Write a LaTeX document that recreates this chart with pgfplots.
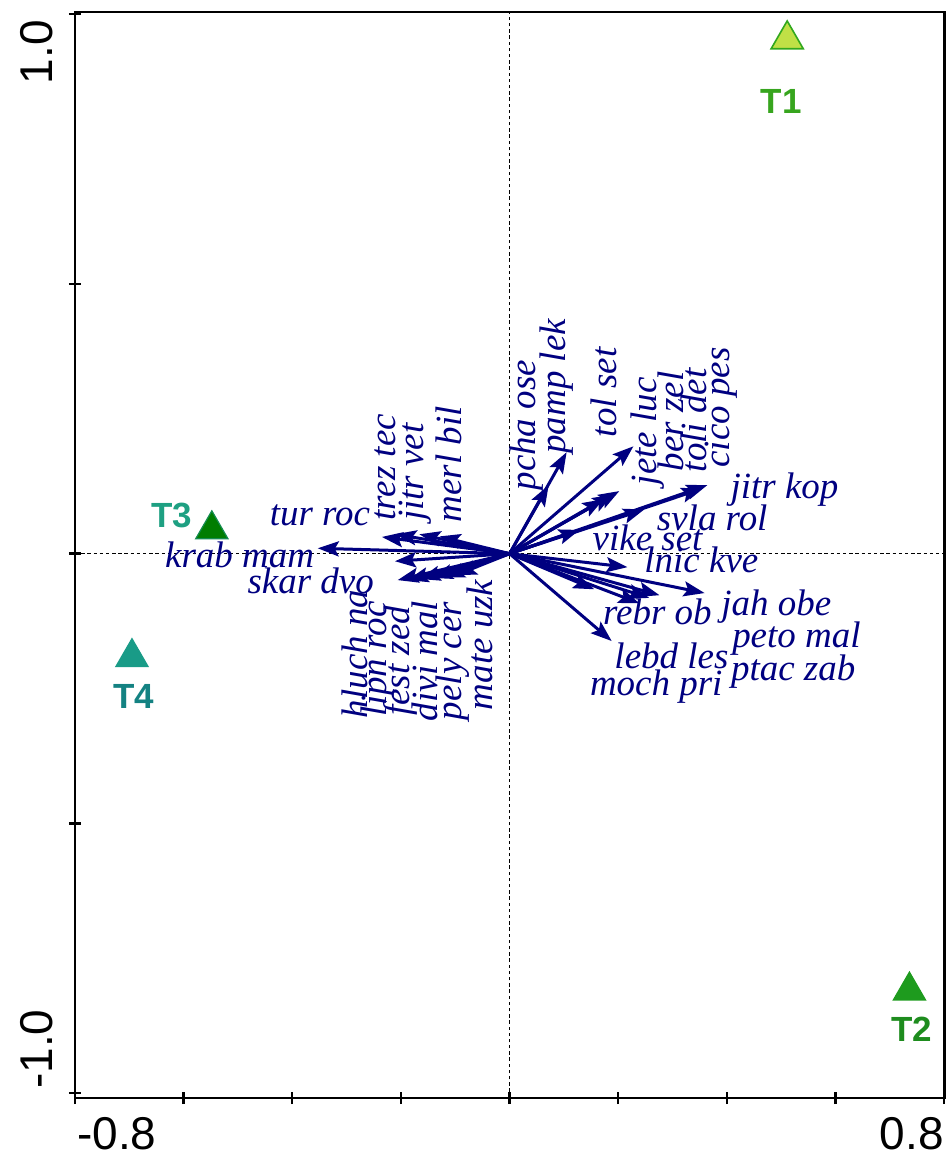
\documentclass[border=0pt]{standalone}
\usepackage{fontspec}
\setmainfont{Liberation Serif}
\newfontfamily\sansfont{Liberation Sans}
\usepackage{pgfplots}
\usepackage{pgfplotstable}
\pgfplotsset{compat=1.18}
\usetikzlibrary{arrows.meta}

\definecolor{spnavy}{RGB}{0,0,128}
\definecolor{tonefill}{RGB}{192,224,70}
\definecolor{toneedge}{RGB}{50,168,30}
\definecolor{tonetext}{RGB}{55,165,30}
\definecolor{ttwofill}{RGB}{30,155,30}
\definecolor{ttwotext}{RGB}{30,140,30}
\definecolor{tthreefill}{RGB}{0,125,0}
\definecolor{tthreeedge}{RGB}{20,140,80}
\definecolor{tthreetext}{RGB}{30,160,130}
\definecolor{tfourfill}{RGB}{25,155,135}
\definecolor{tfourtext}{RGB}{20,130,130}

\tikzset{
  sp/.style={font=\fontsize{18.5}{20}\selectfont\itshape, text=spnavy, inner sep=0pt},
  tl/.style={font=\sansfont\bfseries\fontsize{17.5}{19}\selectfont, inner sep=0pt},
}
\pgfplotsset{
  sparrow/.style={spnavy, line width=1.5pt, mark=none,
    -{Stealth[length=10.5pt, width=7.5pt, inset=2pt]}},
}

% species vectors (tips of the arrows)
\pgfplotstableread{
name      dx      dy
pchaose   0.072   0.127
pamplek   0.105   0.188
jeteluc   0.228   0.199
tolset    0.202   0.116
berzel    0.191   0.110
tolidet   0.173   0.101
cicopes   0.355   0.121
jitrkop   0.364   0.127
svlarol   0.248   0.082
vikeset   0.129   0.044
lnickve   0.217  -0.025
jahobe    0.359  -0.073
petomal   0.276  -0.077
ptaczab   0.257  -0.082
rebrob    0.239  -0.092
mochpri   0.156  -0.066
lebdles   0.188  -0.162
krabmam  -0.353   0.010
turroc   -0.235   0.031
treztec  -0.210   0.036
jitrvet  -0.166   0.036
merlbil  -0.129   0.032
skardvo  -0.211  -0.014
hluchna  -0.206  -0.049
lipnroc  -0.188  -0.049
festzed  -0.166  -0.047
divimal  -0.143  -0.045
pelycer  -0.121  -0.044
mateuzk  -0.099  -0.040
}\speciestab

\begin{document}
\begin{tikzpicture}
\begin{axis}[
  scale only axis,
  width=435pt, height=543.5pt,
  xmin=-0.8, xmax=0.8, ymin=-1.009, ymax=1.004,
  xtick={-0.8,-0.6,-0.4,-0.2,0,0.2,0.4,0.6,0.8},
  ytick={-1,-0.5,0,0.5,1},
  xticklabels={}, yticklabels={},
  xtick pos=left, ytick pos=left,
  tick align=center,
  major tick length=6pt,
  tick style={black, line width=1.2pt},
  axis line style={black, line width=1.4pt},
]
% zero lines
\draw[black, line width=0.5pt, dash pattern=on 1.7pt off 1.4pt]
  (axis cs:0,-1.009) -- (axis cs:0,1.004);
\draw[black, line width=0.5pt, dash pattern=on 1.7pt off 1.4pt]
  (axis cs:-0.8,0) -- (axis cs:0.8,0);

% species arrows, one plot per table row
\pgfplotsinvokeforeach{0,...,28}{
  \pgfplotstablegetelem{#1}{dx}\of\speciestab
  \edef\tipx{\pgfplotsretval}
  \pgfplotstablegetelem{#1}{dy}\of\speciestab
  \edef\tipy{\pgfplotsretval}
  \edef\drawarrow{\noexpand\addplot[sparrow] coordinates {(0,0) (\tipx,\tipy)};}
  \drawarrow
}

% sample points
\addplot[only marks, mark=triangle*, mark size=9.3pt,
  mark options={fill=tonefill, draw=toneedge, line width=0.8pt}]
  coordinates {(0.511,0.953)};
\addplot[only marks, mark=triangle*, mark size=9.3pt,
  mark options={fill=ttwofill, draw=ttwofill, line width=0.6pt}]
  coordinates {(0.736,-0.810)};
\addplot[only marks, mark=triangle*, mark size=9.3pt,
  mark options={fill=tthreefill, draw=tthreeedge, line width=0.6pt}]
  coordinates {(-0.548,0.045)};
\addplot[only marks, mark=triangle*, mark size=9.3pt,
  mark options={fill=tfourfill, draw=tfourfill, line width=0.6pt}]
  coordinates {(-0.695,-0.192)};

\node[tl, text=tonetext]   at (axis cs:0.500,0.838)  {T1};
\node[tl, text=ttwotext]   at (axis cs:0.740,-0.882) {T2};
\node[tl, text=tthreetext] at (axis cs:-0.622,0.071) {T3};
\node[tl, text=tfourtext]  at (axis cs:-0.692,-0.264) {T4};

% horizontal species labels
\node[sp] at (axis cs:-0.349,0.071)  {tur roc};
\node[sp] at (axis cs:-0.497,-0.003) {krab mam};
\node[sp] at (axis cs:-0.366,-0.051) {skar dvo};
\node[sp] at (axis cs:0.506,0.119)   {jitr kop};
\node[sp] at (axis cs:0.373,0.066)   {svla rol};
\node[sp] at (axis cs:0.254,0.029)   {vike set};
\node[sp] at (axis cs:0.353,-0.012)  {lnic kve};
\node[sp] at (axis cs:0.491,-0.099)  {jah obe};
\node[sp] at (axis cs:0.272,-0.108)  {rebr ob};
\node[sp] at (axis cs:0.528,-0.158)  {peto mal};
\node[sp] at (axis cs:0.298,-0.190)  {lebd les};
\node[sp] at (axis cs:0.522,-0.219)  {ptac zab};
\node[sp] at (axis cs:0.270,-0.247)  {moch pri};

% vertical species labels
\node[sp, rotate=90] at (axis cs:-0.228,0.160)  {trez tec};
\node[sp, rotate=90] at (axis cs:-0.173,0.151)  {jitr vet};
\node[sp, rotate=90] at (axis cs:-0.112,0.166)  {merl bil};
\node[sp, rotate=90] at (axis cs:-0.285,-0.186) {hluch na};
\node[sp, rotate=90] at (axis cs:-0.243,-0.195) {lipn roc};
\node[sp, rotate=90] at (axis cs:-0.200,-0.199) {fest zed};
\node[sp, rotate=90] at (axis cs:-0.156,-0.199) {divi mal};
\node[sp, rotate=90] at (axis cs:-0.105,-0.199) {pely cer};
\node[sp, rotate=90] at (axis cs:-0.055,-0.169) {mate uzk};
\node[sp, rotate=90] at (axis cs:0.031,0.238)   {pcha ose};
\node[sp, rotate=90] at (axis cs:0.086,0.310)   {pamp lek};
\node[sp, rotate=90] at (axis cs:0.173,0.299)   {tol set};
\node[sp, rotate=90] at (axis cs:0.254,0.227)   {jete luc};
\node[sp, rotate=90] at (axis cs:0.296,0.245)   {ber zel};
\node[sp, rotate=90] at (axis cs:0.340,0.247)   {toli det};
\node[sp, rotate=90] at (axis cs:0.390,0.271)   {cico pes};

\coordinate (sw) at (rel axis cs:0,0);
\coordinate (ne) at (rel axis cs:1,1);
\coordinate (nw) at (rel axis cs:0,1);
\coordinate (se) at (rel axis cs:1,0);
\end{axis}

% axis end labels
\begin{scope}[font=\sansfont\fontsize{23}{25}\selectfont]
\node[inner sep=0pt, rotate=90, anchor=south east] at ([shift={(-11pt,-4pt)}]nw) {1.0};
\node[inner sep=0pt, rotate=90, anchor=south west] at ([shift={(-11pt,4.5pt)}]sw) {-1.0};
\node[inner sep=0pt, anchor=north west] at ([shift={(1pt,-9.5pt)}]sw) {-0.8};
\node[inner sep=0pt, anchor=north east] at ([shift={(0pt,-9.5pt)}]se) {0.8};
\end{scope}
\path ([shift={(-37.5pt,-29.5pt)}]sw) rectangle ([shift={(2pt,6pt)}]ne);
\end{tikzpicture}
\end{document}
